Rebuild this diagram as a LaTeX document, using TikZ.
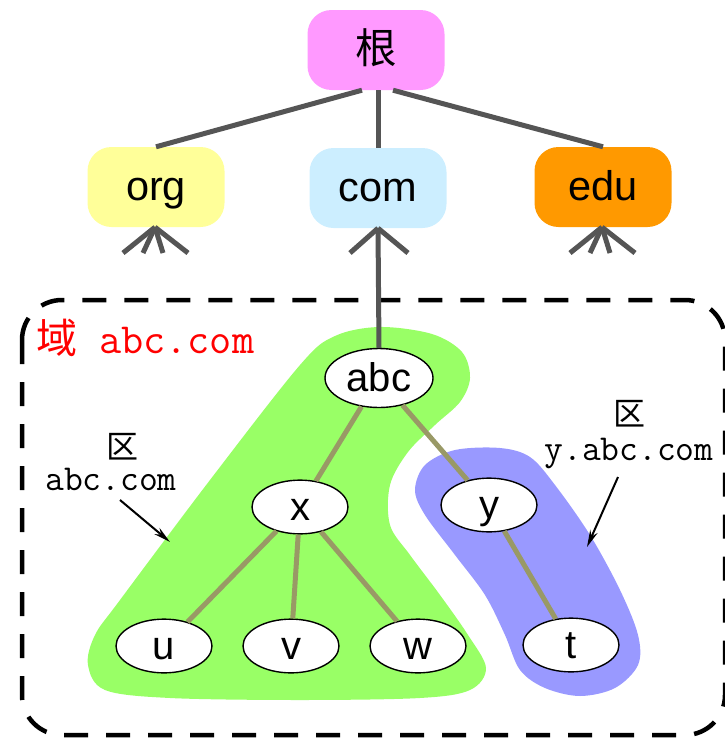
\documentclass[tikz,border=0pt]{standalone}
\usepackage{fontspec}
\setmainfont{Liberation Sans}
\newfontfamily\cjk{Noto Sans CJK SC}
\usetikzlibrary{shapes.geometric,arrows.meta}
\definecolor{rootc}{HTML}{FF99FF}
\definecolor{orgc}{HTML}{FFFF99}
\definecolor{comc}{HTML}{CCEEFF}
\definecolor{educ}{HTML}{FF9900}
\definecolor{greenz}{HTML}{99FF66}
\definecolor{bluez}{HTML}{9999FF}
\definecolor{graye}{HTML}{555555}
\definecolor{olive}{HTML}{999966}
\tikzset{
  tld/.style={rounded corners=24pt, minimum width=137pt, minimum height=80pt, inner sep=0pt, text height=32pt, text depth=6pt, font=\fontsize{41.5}{43}\selectfont},
  host/.style={ellipse, draw=black, line width=1.4pt, fill=white, minimum width=96pt, minimum height=50pt, inner sep=0pt, text height=32pt, text depth=6pt, font=\fontsize{40}{42}\selectfont},
  upedge/.style={draw=graye, line width=5pt},
  treeedge/.style={draw=olive, line width=5pt},
  pointer/.style={draw=black, line width=2pt, -{Stealth[length=17pt,width=8pt]}},
  monolab/.style={font=\fontsize{36.5}{38}\selectfont\ttfamily, inner sep=0pt},
  qu/.style={font=\fontsize{32}{34}\selectfont\cjk, inner sep=0pt}
}
\begin{document}
\begin{tikzpicture}[x=1pt,y=-1pt]
\useasboundingbox (0,0) rectangle (725,739);
% zones
\fill[greenz] plot[smooth cycle, tension=0.55] coordinates {(380,327) (432,334) (462,352) (470,378) (460,402) (435,425) (408,452) (390,485) (390,525) (410,555) (440,595) (468,635) (486,668) (470,690) (420,698) (300,700) (170,698) (105,690) (88,665) (95,635) (120,600) (210,480) (300,365) (335,336)};
\fill[bluez] plot[smooth cycle, tension=0.55] coordinates {(500,448) (530,457) (555,485) (590,535) (620,590) (638,635) (638,665) (615,688) (580,696) (545,688) (520,670) (505,635) (485,595) (455,555) (425,515) (415,490) (425,465) (455,450)};
% domain box
\draw[black, line width=4.5pt, dash pattern=on 24pt off 18pt, rounded corners=40pt] (22,300) rectangle (725,735);
% top nodes
\node[tld, fill=rootc] (root) at (376,50) {\cjk 根};
\node[tld, fill=orgc] (org) at (156,187) {org};
\node[tld, fill=comc] (com) at (378,188) {com};
\node[tld, fill=educ] (edu) at (603,187) {edu};
% hosts
\node[host, minimum width=108pt, minimum height=59pt] (abc) at (379,378) {abc};
\node[host] (x) at (300,507) {x};
\node[host] (y) at (489,505) {y};
\node[host] (u) at (164,646) {u};
\node[host] (v) at (291,646) {v};
\node[host] (w) at (418,646) {w};
\node[host] (t) at (571,645) {t};
% upper edges
\draw[upedge] ([xshift=-14pt]root.south) -- (org.north);
\draw[upedge] ([xshift=2pt]root.south) -- (com.north);
\draw[upedge] ([xshift=17pt]root.south) -- (edu.north);
\draw[upedge] (com.south) -- (abc.north);
% fans
\coordinate (of1) at (123,253); \coordinate (of2) at (143,253);
\coordinate (of3) at (163,253); \coordinate (of4) at (188,253);
\coordinate (ef1) at (570,253); \coordinate (ef2) at (590,253);
\coordinate (ef3) at (610,253); \coordinate (ef4) at (635,253);
\coordinate (cf1) at (350,253); \coordinate (cf2) at (408,253);
\foreach \c in {of1,of2,of3,of4} \draw[upedge] ([xshift=-1pt]org.south) -- (\c);
\foreach \c in {ef1,ef2,ef3,ef4} \draw[upedge] ([xshift=-1pt]edu.south) -- (\c);
\foreach \c in {cf1,cf2} \draw[upedge] (com.south) -- (\c);
% tree edges
\draw[treeedge] (abc) -- (x);
\draw[treeedge] (abc) -- (y);
\draw[treeedge] (x) -- (u);
\draw[treeedge] (x) -- (v);
\draw[treeedge] (x) -- (w);
\draw[treeedge] (y) -- (t);
% labels
\node[anchor=base west, inner sep=0pt, text=red, font=\fontsize{41}{43}\selectfont] (dom) at (36,353) {{\cjk 域}\hspace{22pt}{\fontsize{43}{45}\selectfont\ttfamily abc.com}};
\node[qu] (q1) at (122,447) {区};
\node[monolab, anchor=base] (l1) at (111,490) {abc.com};
\node[qu] (q2) at (629,414) {区};
\node[monolab, anchor=base] (l2) at (629,460) {y.abc.com};
\coordinate (a1s) at (120,500); \coordinate (a1e) at (170,542);
\coordinate (a2s) at (618,477); \coordinate (a2e) at (587,547);
\draw[pointer] (a1s) -- (a1e);
\draw[pointer] (a2s) -- (a2e);
\end{tikzpicture}
\end{document}
